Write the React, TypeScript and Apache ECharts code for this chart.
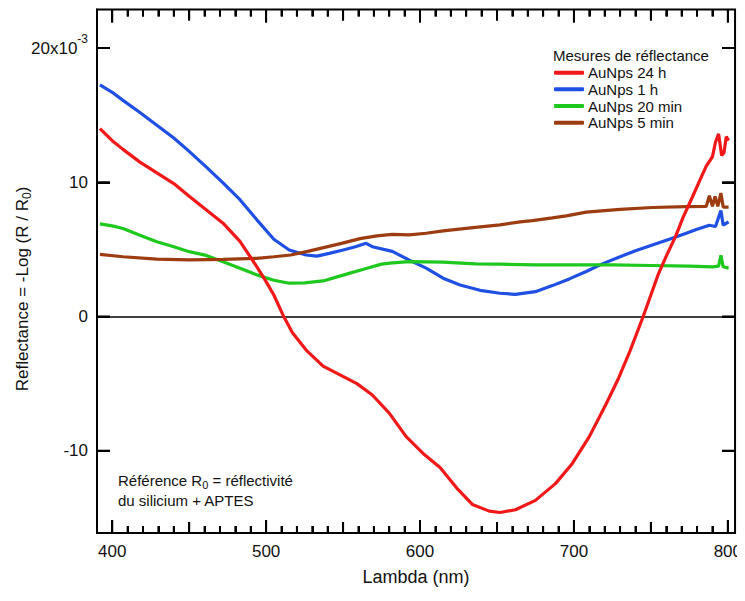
import React, { useEffect, useRef } from 'react';
import * as echarts from 'echarts';

// ---- axis ticks / labels ----
const xMajorTicks = [400, 500, 600, 700, 800];
const xMidTicks = [450, 550, 650, 750];
const xMinorTicks = [410, 420, 430, 440, 460, 470, 480, 490, 510, 520, 530, 540, 560, 570, 580, 590,
  610, 620, 630, 640, 660, 670, 680, 690, 710, 720, 730, 740, 760, 770, 780, 790];
const yTicks = [-10, 0, 10, 20];

// ---- series ----
const seriesNames = ['AuNps 24 h', 'AuNps 1 h', 'AuNps 20 min', 'AuNps 5 min'];
const seriesColors = ['#f01818', '#1f4fe3', '#1ec81e', '#9c3c10'];

const au24h: [number, number][] = [
  [392, 14.0], [400, 13.1], [407, 12.45], [418, 11.5], [429, 10.7], [440, 9.9], [450, 8.95],
  [461, 7.95], [472, 6.95], [483, 5.6], [494, 3.7], [500, 2.6], [505, 1.6], [511, 0.1],
  [517, -1.2], [526, -2.5], [537, -3.7], [548, -4.35], [559, -5.0], [569, -5.85], [580, -7.2],
  [591, -8.95], [602, -10.2], [613, -11.25], [624, -12.8], [634, -14.0], [645, -14.5],
  [652, -14.6], [662, -14.4], [675, -13.7], [688, -12.45], [699, -10.95], [710, -8.95],
  [721, -6.5], [729, -4.6], [736, -2.7], [745, 0], [750, 1.6], [755, 3.2], [760, 4.5],
  [766, 5.95], [771, 7.4], [777, 8.9], [782, 10.2], [786, 11.2], [790, 11.9], [792, 13.0],
  [794, 13.6], [796, 12.0], [797.5, 12.2], [799, 13.4], [800.5, 13.1],
];
const au1h: [number, number][] = [
  [392, 17.25], [400, 16.7], [407, 16.1], [418, 15.2], [429, 14.25], [440, 13.3], [450, 12.3],
  [461, 11.15], [472, 9.95], [483, 8.7], [494, 7.2], [505, 5.75], [515, 4.95], [526, 4.58],
  [533, 4.5], [541, 4.7], [550, 4.95], [558, 5.2], [565, 5.45], [569, 5.2], [582, 4.85],
  [593, 4.2], [604, 3.6], [615, 2.85], [626, 2.35], [639, 1.95], [652, 1.73], [662, 1.65],
  [675, 1.85], [686, 2.3], [697, 2.8], [708, 3.35], [718, 3.9], [730, 4.45], [740, 4.9],
  [751, 5.33], [762, 5.75], [773, 6.2], [780, 6.5], [788, 6.8], [792, 6.7], [795.5, 7.9],
  [797, 6.8], [800.5, 7.05],
];
const au20min: [number, number][] = [
  [392, 6.9], [400, 6.75], [407, 6.55], [418, 6.05], [429, 5.57], [440, 5.2], [450, 4.83],
  [461, 4.55], [472, 4.08], [483, 3.6], [494, 3.1], [505, 2.7], [515, 2.48], [525, 2.5],
  [537, 2.65], [550, 3.08], [565, 3.58], [575, 3.9], [582, 4.0], [593, 4.08], [615, 4.05],
  [636, 3.92], [652, 3.9], [675, 3.85], [700, 3.85], [725, 3.85], [750, 3.8], [775, 3.75],
  [790, 3.7], [794, 3.75], [795.5, 4.55], [797, 3.7], [800.5, 3.6],
];
const au5min: [number, number][] = [
  [392, 4.63], [407, 4.45], [429, 4.27], [450, 4.22], [472, 4.26], [494, 4.33], [505, 4.45],
  [516, 4.58], [527, 4.85], [538, 5.15], [549, 5.45], [561, 5.8], [572, 6.0], [582, 6.12],
  [593, 6.08], [604, 6.2], [615, 6.38], [636, 6.64], [652, 6.82], [665, 7.05], [673, 7.14],
  [686, 7.35], [695, 7.5], [708, 7.78], [730, 7.98], [751, 8.12], [773, 8.18], [786, 8.2],
  [788, 9.0], [790, 8.2], [791.7, 8.95], [793.5, 8.2], [795.5, 9.2], [797, 8.15], [800.5, 8.15],
];
const seriesData = [au24h, au1h, au20min, au5min];
const seriesZ = [5, 2, 3, 4];

const X_MIN = 390.1;
const X_MAX = 804.7;
const Y_MIN = -16.13;
const Y_MAX = 22.87;

const W = 745;
const H = 601;
const GRID = { left: 97, right: 9, top: 9.5, bottom: 68 };
const PX_PER_X = (W - GRID.left - GRID.right) / (X_MAX - X_MIN);
const PX_PER_Y = (H - GRID.top - GRID.bottom) / (Y_MAX - Y_MIN);

const FONT = 'Liberation Sans, Arial, sans-serif';
const INK = '#000000';

function xTickLength(v: number) {
  if (xMajorTicks.indexOf(v) >= 0) return 13;
  if (xMidTicks.indexOf(v) >= 0) return 11;
  return 7;
}

export default function App() {
  const ref = useRef<HTMLDivElement>(null);

  useEffect(() => {
    if (!ref.current) return;
    const chart = echarts.init(ref.current, undefined, { renderer: 'svg' });

    const allXTicks = [...xMajorTicks, ...xMidTicks, ...xMinorTicks];

    // inward ticks as marker segments (bottom mid/minor, top all, right side)
    const tickLines: any[] = [];
    [...xMidTicks, ...xMinorTicks].forEach((v) => {
      const dy = xTickLength(v) / PX_PER_Y;
      tickLines.push([{ coord: [v, Y_MIN] }, { coord: [v, Y_MIN + dy] }]);
    });
    allXTicks.forEach((v) => {
      const dy = xTickLength(v) / PX_PER_Y;
      tickLines.push([{ coord: [v, Y_MAX] }, { coord: [v, Y_MAX - dy] }]);
    });
    yTicks.forEach((v) => {
      const dx = 13 / PX_PER_X;
      tickLines.push([{ coord: [X_MAX, v] }, { coord: [X_MAX - dx, v] }]);
    });

    const series: any[] = seriesNames.map((name, i) => ({
      name,
      type: 'line',
      data: seriesData[i],
      showSymbol: false,
      symbol: 'none',
      z: seriesZ[i],
      lineStyle: { color: seriesColors[i], width: 3.2 },
      itemStyle: { color: seriesColors[i] },
      ...(i === 0
        ? {
            markLine: {
              silent: true,
              symbol: 'none',
              label: { show: false },
              lineStyle: { color: INK, width: 2, type: 'solid' },
              data: tickLines,
            },
          }
        : {}),
      ...(i === 3
        ? {
            markLine: {
              silent: true,
              symbol: 'none',
              label: { show: false },
              lineStyle: { color: INK, width: 1.5, type: 'solid' },
              data: [{ yAxis: 0 }],
            },
          }
        : {}),
    }));

    // the same frame ticks as small filled rects placed through the scales
    series.push({
      type: 'custom',
      name: 'frameTicksX',
      data: allXTicks.map((v) => [v, Y_MIN]),
      renderItem: (_p: any, api: any) => {
        const v = api.value(0);
        const len = xTickLength(v);
        const b = api.coord([v, Y_MIN]);
        const t = api.coord([v, Y_MAX]);
        return {
          type: 'group',
          children: [
            { type: 'rect', shape: { x: b[0] - 1, y: b[1] - len, width: 2, height: len }, style: { fill: INK } },
            { type: 'rect', shape: { x: t[0] - 1, y: t[1], width: 2, height: len }, style: { fill: INK } },
          ],
        };
      },
    });
    series.push({
      type: 'custom',
      name: 'frameTicksY',
      data: yTicks.map((v) => [X_MIN, v]),
      renderItem: (_p: any, api: any) => {
        const v = api.value(1);
        const l = api.coord([X_MIN, v]);
        const r = api.coord([X_MAX, v]);
        return {
          type: 'group',
          children: [
            { type: 'rect', shape: { x: l[0], y: l[1] - 1, width: 13, height: 2 }, style: { fill: INK } },
            { type: 'rect', shape: { x: r[0] - 13, y: r[1] - 1, width: 13, height: 2 }, style: { fill: INK } },
          ],
        };
      },
    });

    chart.setOption({
      animation: false,
      grid: {
        left: GRID.left,
        right: GRID.right,
        top: GRID.top,
        bottom: GRID.bottom,
        containLabel: false,
        show: true,
        borderColor: INK,
        borderWidth: 2,
        backgroundColor: 'transparent',
      },
      xAxis: {
        type: 'value',
        min: X_MIN,
        max: X_MAX,
        axisLine: { show: true, onZero: false, lineStyle: { color: INK, width: 2 } },
        axisTick: { show: true, inside: true, length: 13, customValues: xMajorTicks, lineStyle: { color: INK, width: 2 } },
        axisLabel: { show: true, customValues: xMajorTicks, margin: 10, fontSize: 17, fontFamily: FONT, color: '#111' },
        splitLine: { show: false },
        name: 'Lambda (nm)',
        nameLocation: 'middle',
        nameGap: 35,
        nameTextStyle: { fontSize: 18, fontFamily: FONT, color: '#111' },
      },
      yAxis: {
        type: 'value',
        min: Y_MIN,
        max: Y_MAX,
        axisLine: { show: true, onZero: false, lineStyle: { color: INK, width: 2 } },
        axisTick: { show: true, inside: true, length: 13, customValues: yTicks, lineStyle: { color: INK, width: 2 } },
        axisLabel: {
          show: true,
          customValues: yTicks,
          margin: 9,
          fontSize: 17,
          fontFamily: FONT,
          color: '#111',
          formatter: (v: number) => (v === 20 ? '{b|20x10}{sup|-3}' : '{b|' + v + '}'),
          rich: {
            b: { fontSize: 17, fontFamily: FONT, color: '#111' },
            sup: { fontSize: 12, fontFamily: FONT, color: '#111', padding: [0, 0, 18, 0] },
          },
        },
        splitLine: { show: false },
      },
      legend: {
        show: true,
        orient: 'vertical',
        left: 554,
        top: 64.3,
        padding: 0,
        icon: 'roundRect',
        itemWidth: 30,
        itemHeight: 4,
        itemGap: 0,
        selectedMode: false,
        data: seriesNames,
        textStyle: { fontSize: 15, fontFamily: FONT, color: '#111', lineHeight: 16.7, padding: [0, 0, 0, -1] },
      },
      graphic: [
        {
          type: 'text',
          x: 22,
          y: 289,
          rotation: Math.PI / 2,
          style: {
            text: '{a|Reflectance = -Log (R / R}{s|0}{a|)}',
            fontSize: 17,
            fontFamily: FONT,
            fill: '#111',
            align: 'center',
            verticalAlign: 'middle',
            rich: {
              a: { fontSize: 17, fontFamily: FONT, fill: '#111' },
              s: { fontSize: 12, fontFamily: FONT, fill: '#111', padding: [10, 0, 0, 0] },
            },
          },
        },
        {
          type: 'text',
          x: 553,
          y: 55,
          style: {
            text: 'Mesures de réflectance',
            fontSize: 15,
            fontFamily: FONT,
            fill: '#111',
            verticalAlign: 'middle',
          },
        },
        {
          type: 'text',
          x: 118,
          y: 470.7,
          style: {
            text: '{a|Référence R}{s|0}{a| = réflectivité}\n{a|du silicium + APTES}',
            fontSize: 15,
            fontFamily: FONT,
            fill: '#111',
            verticalAlign: 'top',
            rich: {
              a: { fontSize: 15, fontFamily: FONT, fill: '#111', lineHeight: 20 },
              s: { fontSize: 11, fontFamily: FONT, fill: '#111', padding: [8, 0, 0, 0] },
            },
          },
        },
      ],
      series,
    });

    return () => {
      chart.dispose();
    };
  }, []);

  return <div ref={ref} style={{ width: W, height: H, margin: '-8px 0 0 -8px' }} />;
}
